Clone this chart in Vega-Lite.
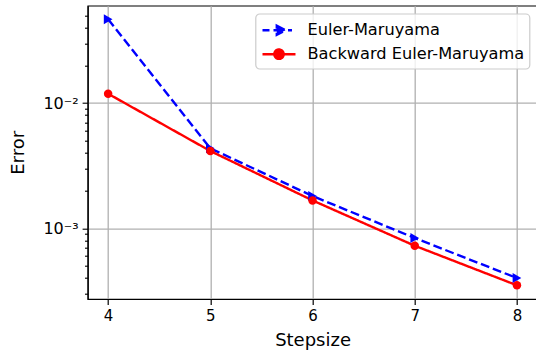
{
  "$schema": "https://vega.github.io/schema/vega-lite/v6.json",
  "width": 449.7,
  "height": 293.3,
  "autosize": {"type": "none"},
  "padding": {"left": 87.7, "top": 5.7, "right": 0, "bottom": 53},
  "background": "white",
  "config": {
    "font": "DejaVu Sans",
    "view": {"stroke": "#000000", "strokeWidth": 1.2}
  },
  "data": {
    "values": [
      {"series": "Euler-Maruyama", "stepsize": 4, "error": 0.0466},
      {"series": "Euler-Maruyama", "stepsize": 5, "error": 0.00435},
      {"series": "Euler-Maruyama", "stepsize": 6, "error": 0.00181},
      {"series": "Euler-Maruyama", "stepsize": 7, "error": 0.000837},
      {"series": "Euler-Maruyama", "stepsize": 8, "error": 0.000401},
      {"series": "Backward Euler-Maruyama", "stepsize": 4, "error": 0.01186},
      {"series": "Backward Euler-Maruyama", "stepsize": 5, "error": 0.00414},
      {"series": "Backward Euler-Maruyama", "stepsize": 6, "error": 0.00167},
      {"series": "Backward Euler-Maruyama", "stepsize": 7, "error": 0.000726},
      {"series": "Backward Euler-Maruyama", "stepsize": 8, "error": 0.000351}
    ]
  },
  "encoding": {
    "x": {
      "field": "stepsize",
      "type": "quantitative",
      "scale": {"domain": [3.8, 8.2], "nice": false, "zero": false},
      "axis": {
        "values": [4, 5, 6, 7, 8],
        "format": "d",
        "grid": true,
        "gridColor": "#b0b0b0",
        "gridWidth": 1.3,
        "tickSize": 5.6,
        "tickColor": "#000000",
        "tickWidth": 1.2,
        "domainColor": "#000000",
        "domainWidth": 1.2,
        "labelFontSize": 15,
        "labelColor": "#000000",
        "labelPadding": 4,
        "title": "Stepsize",
        "titleFontSize": 18,
        "titleFontWeight": "normal",
        "titleColor": "#000000",
        "titlePadding": 8
      }
    },
    "y": {
      "field": "error",
      "type": "quantitative",
      "scale": {"type": "log", "domain": [0.0002729, 0.05981], "nice": false},
      "axis": {
        "values": [0.0003, 0.0004, 0.0005, 0.0006, 0.0007, 0.0008, 0.0009, 0.001, 0.002, 0.003, 0.004, 0.005, 0.006, 0.007, 0.008, 0.009, 0.01, 0.02, 0.03, 0.04, 0.05],
        "labelExpr": "datum.value == 0.01 ? '10⁻²' : datum.value == 0.001 ? '10⁻³' : ''",
        "labelOverlap": false,
        "grid": true,
        "gridColor": "#b0b0b0",
        "gridWidth": 1.3,
        "gridOpacity": {"condition": {"test": "datum.value == 0.01 || datum.value == 0.001", "value": 1}, "value": 0},
        "tickSize": {"condition": {"test": "datum.value == 0.01 || datum.value == 0.001", "value": 5.6}, "value": 3.2},
        "tickColor": "#000000",
        "tickWidth": 1.1,
        "domainColor": "#000000",
        "domainWidth": 1.2,
        "labelFontSize": 16,
        "labelColor": "#000000",
        "labelPadding": 4,
        "title": "Error",
        "titleFontSize": 18,
        "titleFontWeight": "normal",
        "titleColor": "#000000",
        "titlePadding": 15
      }
    },
    "color": {
      "field": "series",
      "type": "nominal",
      "scale": {"domain": ["Euler-Maruyama", "Backward Euler-Maruyama"], "range": ["#0000ff", "#ff0000"]},
      "legend": {
        "title": null,
        "orient": "none",
        "legendX": 167.8,
        "legendY": 8,
        "padding": 5,
        "rowPadding": 3,
        "symbolSize": 400,
        "symbolStrokeWidth": 2.4,
        "symbolOffset": 7,
        "labelOffset": 17,
        "labelFontSize": 16.2,
        "labelLimit": 400,
        "labelColor": "#000000",
        "fillColor": "rgba(255,255,255,0.8)",
        "strokeColor": "#cccccc",
        "cornerRadius": 4,
        "encode": {
          "legend": {"update": {"strokeWidth": {"value": 1.2}}},
          "symbols": {
            "update": {
              "shape": {"signal": "datum.value == 'Euler-Maruyama' ? 'M-1.65,0H-0.95M-0.55,0H0M0.9,0H1.3M-0.22,-0.45L0.65,0L-0.22,0.45Z' : 'M-1.65,0H1.65M-0.47,0A0.47,0.47 0 1,0 0.47,0A0.47,0.47 0 1,0 -0.47,0Z'"},
              "fill": {"signal": "datum.value == 'Euler-Maruyama' ? '#0000ff' : '#ff0000'"},
              "stroke": {"signal": "datum.value == 'Euler-Maruyama' ? '#0000ff' : '#ff0000'"},
              "opacity": {"value": 1},
              "fillOpacity": {"value": 1}
            }
          }
        }
      }
    }
  },
  "layer": [
    {
      "mark": {"type": "line", "strokeWidth": 2.4},
      "encoding": {
        "strokeDash": {
          "field": "series",
          "type": "nominal",
          "scale": {"domain": ["Euler-Maruyama", "Backward Euler-Maruyama"], "range": [[8.9, 3.85], [1, 0]]},
          "legend": null
        }
      }
    },
    {
      "transform": [{"filter": "datum.series == 'Euler-Maruyama'"}],
      "mark": {"type": "point", "filled": true, "opacity": 1, "shape": "triangle-right", "size": 100, "strokeWidth": 0}
    },
    {
      "transform": [{"filter": "datum.series == 'Backward Euler-Maruyama'"}],
      "mark": {"type": "point", "filled": true, "opacity": 1, "shape": "circle", "size": 72, "strokeWidth": 0}
    }
  ]
}
